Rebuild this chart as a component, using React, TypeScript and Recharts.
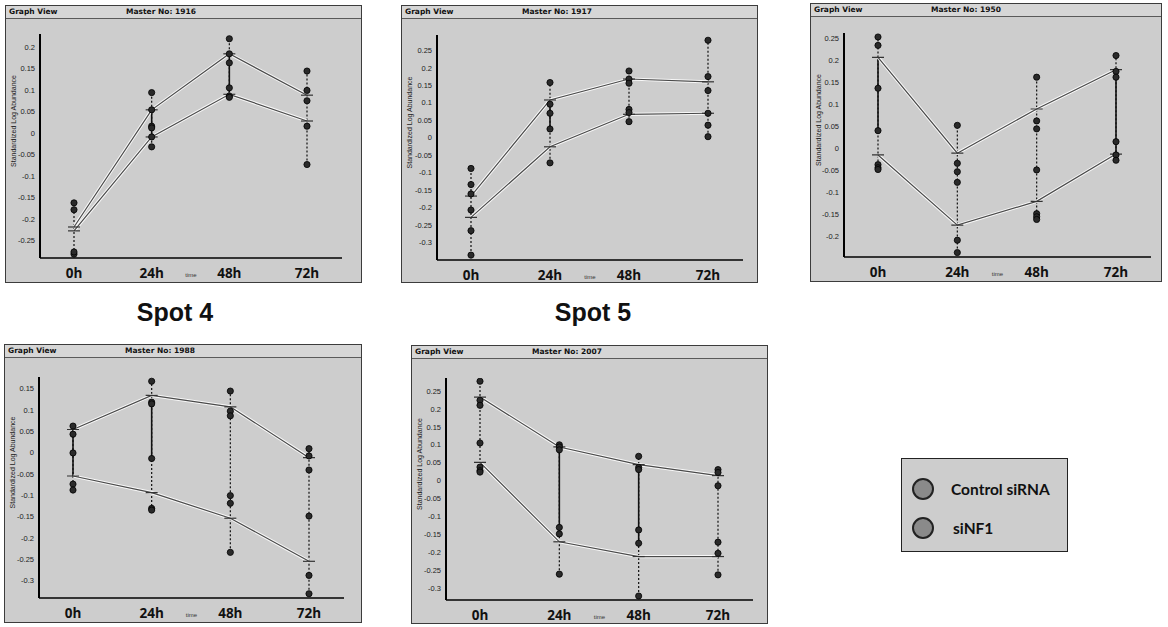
import { ComposedChart, Line, ReferenceLine, Scatter, XAxis, YAxis } from "recharts";

const timeLabels = ["0h", "24h", "48h", "72h"];
const timeIndex = [0, 1, 2, 3];
const groupNames = ["Control siRNA", "siNF1"];
const spotLabels = ["Spot 4", "Spot 5"];

// Master No: 1916
const master1 = "1916";
const domain1 = [-0.29, 0.23];
const ticks1 = [0.2, 0.15, 0.1, 0.05, 0, -0.05, -0.1, -0.15, -0.2, -0.25];
const meanCtrl1 = [-0.218, 0.054, 0.184, 0.088];
const meanNf1_1 = [-0.227, -0.009, 0.09, 0.028];
const repsCtrl1 = [[-0.162, -0.281], [0.094, 0.054, 0.016], [0.219, 0.184, 0.163], [0.144, 0.099, 0.016]];
const repsNf1_1 = [[-0.178, -0.276], [0.012, -0.009, -0.032], [0.105, 0.086, 0.083], [0.075, -0.073]];
const solid1 = [null, [-0.009, 0.054], [0.086, 0.184], null];

// Master No: 1917
const master2 = "1917";
const domain2 = [-0.35, 0.294];
const ticks2 = [0.25, 0.2, 0.15, 0.1, 0.05, 0, -0.05, -0.1, -0.15, -0.2, -0.25, -0.3];
const meanCtrl2 = [-0.167, 0.108, 0.168, 0.16];
const meanNf1_2 = [-0.228, -0.026, 0.067, 0.07];
const repsCtrl2 = [[-0.088, -0.161, -0.266], [0.158, 0.096, 0.07], [0.191, 0.168, 0.156], [0.279, 0.135, 0.07]];
const repsNf1_2 = [[-0.134, -0.207, -0.336], [0.025, -0.072], [0.081, 0.072, 0.046], [0.175, 0.036, 0.003]];
const solid2 = [null, [0.025, 0.108], null, null];

// Master No: 1950
const master3 = "1950";
const domain3 = [-0.246, 0.261];
const ticks3 = [0.25, 0.2, 0.15, 0.1, 0.05, 0, -0.05, -0.1, -0.15, -0.2];
const meanCtrl3 = [0.206, -0.011, 0.089, 0.178];
const meanNf1_3 = [-0.015, -0.174, -0.12, -0.013];
const repsCtrl3 = [[0.252, 0.233, 0.136], [0.052, -0.034, -0.053], [0.161, 0.062, 0.044], [0.21, 0.174, 0.161]];
const repsNf1_3 = [[0.04, -0.037, -0.044, -0.048], [-0.077, -0.208, -0.236], [-0.049, -0.148, -0.155, -0.161], [0.015, -0.015, -0.027]];
const solid3 = [[0.04, 0.206], null, null, [-0.015, 0.174]];

// Master No: 1988
const master4 = "1988";
const domain4 = [-0.341, 0.177];
const ticks4 = [0.15, 0.1, 0.05, 0, -0.05, -0.1, -0.15, -0.2, -0.25, -0.3];
const meanCtrl4 = [0.054, 0.134, 0.107, -0.012];
const meanNf1_4 = [-0.055, -0.094, -0.154, -0.255];
const repsCtrl4 = [[0.062, 0.043], [0.167, 0.118, 0.114], [0.144, 0.097, 0.086], [0.009, -0.008, -0.041]];
const repsNf1_4 = [[-0.001, -0.074, -0.088], [-0.014, -0.131, -0.135], [-0.101, -0.119, -0.234], [-0.149, -0.288, -0.331]];
const solid4 = [[-0.055, 0.062], [-0.014, 0.118], null, null];

// Master No: 2007
const master5 = "2007";
const domain5 = [-0.332, 0.286];
const ticks5 = [0.25, 0.2, 0.15, 0.1, 0.05, 0, -0.05, -0.1, -0.15, -0.2, -0.25, -0.3];
const meanCtrl5 = [0.233, 0.094, 0.045, 0.014];
const meanNf1_5 = [0.051, -0.17, -0.211, -0.211];
const repsCtrl5 = [[0.277, 0.224, 0.21], [0.1, 0.094, 0.086], [0.068, 0.037, 0.031], [0.031, 0.023, -0.014]];
const repsNf1_5 = [[0.105, 0.038, 0.028, 0.024], [-0.13, -0.148, -0.26], [-0.137, -0.174, -0.321], [-0.171, -0.202, -0.262]];
const solid5 = [null, [-0.148, 0.094], [-0.174, 0.037], null];

const BG = "#cdcdcd";

type Box = {
  left: number; top: number; w: number; h: number;
  axisX: number; plotTop: number; plotBottom: number; plotRight: number;
};

type Spec = {
  box: Box;
  master: string;
  domain: number[];
  ticks: number[];
  meanA: number[];
  meanB: number[];
  repsA: number[][];
  repsB: number[][];
  solid: (number[] | null)[];
};

const MeanTick = (p: any) => {
  if (p.cx == null || p.cy == null) return <g key={p.key} />;
  return (
    <line key={p.key} x1={p.cx - 6} x2={p.cx + 6} y1={p.cy} y2={p.cy} stroke="#333" strokeWidth={1.2} />
  );
};

const RepDot = (p: any) => (
  <circle cx={p.cx} cy={p.cy} r={3.1} fill="#2a2a2a" stroke="#000" strokeWidth={0.8} />
);

const YLabel = ({ viewBox }: any) => {
  const cx = viewBox.x + 11;
  const cy = viewBox.y + viewBox.height / 2 - 25;
  return (
    <text x={cx} y={cy} transform={`rotate(-90 ${cx} ${cy})`} textAnchor="middle" fontSize={7} fill="#222"
      fontFamily="Liberation Sans, sans-serif">
      Standardized Log Abundance
    </text>
  );
};

const XLabel = ({ viewBox }: any) => (
  <text x={viewBox.x + viewBox.width / 2} y={viewBox.y + 19} textAnchor="middle" fontSize={6} fill="#333"
    fontFamily="Liberation Sans, sans-serif">
    time
  </text>
);

function Panel({ spec }: { spec: Spec }) {
  const { box } = spec;
  const rows = timeIndex.map((i) => ({ x: i, a: spec.meanA[i], b: spec.meanB[i] }));
  const pts = timeIndex.flatMap((i) =>
    [...spec.repsA[i], ...spec.repsB[i]].map((v) => ({ x: i, y: v }))
  );
  const ranges = timeIndex.map((i) => {
    const all = [...spec.repsA[i], ...spec.repsB[i], spec.meanA[i], spec.meanB[i]];
    return [Math.min(...all), Math.max(...all)];
  });
  const xH = 20;
  return (
    <div
      style={{
        position: "absolute", left: box.left, top: box.top, width: box.w, height: box.h,
        boxSizing: "border-box", border: "1px solid #3c3c3c", background: BG,
      }}
    >
      <div style={{ position: "absolute", left: -1, top: -1 }}>
        <ComposedChart
          width={box.w}
          height={box.h}
          data={rows}
          margin={{ top: box.plotTop, left: 0, right: box.w - box.plotRight, bottom: box.h - box.plotBottom - xH }}
        >
          <XAxis
            dataKey="x"
            type="number"
            domain={[0, 3]}
            ticks={timeIndex}
            tickFormatter={(v) => timeLabels[v]}
            padding={{ left: 34, right: 35 }}
            height={xH}
            axisLine={{ stroke: "#000", strokeWidth: 1.6 }}
            tickLine={false}
            tickMargin={4}
            tick={{ fontSize: 13.5, fontWeight: 700, fill: "#111", fontFamily: "Open Sans, sans-serif" }}
            label={<XLabel />}
          />
          <YAxis
            type="number"
            domain={spec.domain}
            ticks={spec.ticks}
            allowDataOverflow
            width={box.axisX}
            axisLine={{ stroke: "#000", strokeWidth: 2 }}
            tickLine={false}
            tickSize={3}
            tickMargin={2}
            tickFormatter={(v) => String(v)}
            tick={{ fontSize: 7.5, fill: "#222", fontFamily: "Liberation Sans, sans-serif" }}
            label={<YLabel />}
          />
          {timeIndex.map((i) => (
            <ReferenceLine
              key={`d${i}`}
              segment={[{ x: i, y: ranges[i][0] }, { x: i, y: ranges[i][1] }]}
              stroke="#111"
              strokeWidth={1.2}
              strokeDasharray="2 2"
            />
          ))}
          {timeIndex.map((i) =>
            spec.solid[i] ? (
              <ReferenceLine
                key={`s${i}`}
                segment={[{ x: i, y: spec.solid[i]![0] }, { x: i, y: spec.solid[i]![1] }]}
                stroke="#111"
                strokeWidth={1.6}
              />
            ) : null
          )}
          <Line dataKey="a" stroke="#fff" strokeOpacity={0.85} strokeWidth={3.2} dot={false} isAnimationActive={false} />
          <Line dataKey="b" stroke="#fff" strokeOpacity={0.85} strokeWidth={3.2} dot={false} isAnimationActive={false} />
          <Line dataKey="a" name={groupNames[0]} stroke="#4a4a4a" strokeWidth={1.2} dot={MeanTick} isAnimationActive={false} />
          <Line dataKey="b" name={groupNames[1]} stroke="#4a4a4a" strokeWidth={1.2} dot={MeanTick} isAnimationActive={false} />
          <Scatter data={pts} dataKey="y" shape={RepDot} isAnimationActive={false} />
        </ComposedChart>
      </div>
      <div
        style={{
          position: "absolute", left: 0, top: 0, right: 0, height: 13, boxSizing: "border-box",
          borderBottom: "1px solid #5a5a5a", background: "#d6d6d6",
          fontFamily: "DejaVu Sans, sans-serif", fontWeight: 700, fontSize: 7.5, color: "#111", lineHeight: "12px",
        }}
      >
        <span style={{ position: "absolute", left: 3 }}>Graph View</span>
        <span style={{ position: "absolute", left: 120 }}>Master No: {spec.master}</span>
      </div>
    </div>
  );
}

const specs: Spec[] = [
  {
    box: { left: 5, top: 5, w: 357, h: 278, axisX: 35, plotTop: 29, plotBottom: 253, plotRight: 337 },
    master: master1, domain: domain1, ticks: ticks1, meanA: meanCtrl1, meanB: meanNf1_1,
    repsA: repsCtrl1, repsB: repsNf1_1, solid: solid1,
  },
  {
    box: { left: 401, top: 5, w: 357, h: 278, axisX: 36, plotTop: 30, plotBottom: 255, plotRight: 342 },
    master: master2, domain: domain2, ticks: ticks2, meanA: meanCtrl2, meanB: meanNf1_2,
    repsA: repsCtrl2, repsB: repsNf1_2, solid: solid2,
  },
  {
    box: { left: 810, top: 3, w: 352, h: 279, axisX: 34, plotTop: 30, plotBottom: 254, plotRight: 341 },
    master: master3, domain: domain3, ticks: ticks3, meanA: meanCtrl3, meanB: meanNf1_3,
    repsA: repsCtrl3, repsB: repsNf1_3, solid: solid3,
  },
  {
    box: { left: 4, top: 344, w: 358, h: 279, axisX: 35, plotTop: 33, plotBottom: 254, plotRight: 340 },
    master: master4, domain: domain4, ticks: ticks4, meanA: meanCtrl4, meanB: meanNf1_4,
    repsA: repsCtrl4, repsB: repsNf1_4, solid: solid4,
  },
  {
    box: { left: 411, top: 345, w: 357, h: 279, axisX: 35, plotTop: 33, plotBottom: 255, plotRight: 342 },
    master: master5, domain: domain5, ticks: ticks5, meanA: meanCtrl5, meanB: meanNf1_5,
    repsA: repsCtrl5, repsB: repsNf1_5, solid: solid5,
  },
];

const spotStyle = {
  position: "absolute" as const, top: 298, width: 140, textAlign: "center" as const,
  fontSize: 25, lineHeight: "28px", fontWeight: 700, color: "#111",
};

export default function App() {
  return (
    <div
      style={{
        position: "absolute", left: 0, top: 0, width: 1168, height: 627, background: "#fff",
        overflow: "hidden", fontFamily: "Liberation Sans, Arial, sans-serif",
      }}
    >
      {specs.map((s) => (
        <Panel key={s.master} spec={s} />
      ))}
      <div style={{ ...spotStyle, left: 105 }}>{spotLabels[0]}</div>
      <div style={{ ...spotStyle, left: 523 }}>{spotLabels[1]}</div>
      <div
        style={{
          position: "absolute", left: 901, top: 458, width: 167, height: 94, boxSizing: "border-box",
          border: "1.5px solid #222", background: BG,
        }}
      >
        {groupNames.map((g, i) => (
          <div key={g} style={{ position: "absolute", left: 10, top: 19 + i * 39, height: 22, display: "flex", alignItems: "center" }}>
            <span
              style={{
                display: "inline-block", width: 18, height: 18, borderRadius: "50%", background: "#8a8a8a",
                border: "2px solid #222",
              }}
            />
            <span style={{ marginLeft: i === 0 ? 17 : 19, fontFamily: "Lato, sans-serif", fontWeight: 700, fontSize: 15.5, color: "#111" }}>
              {g}
            </span>
          </div>
        ))}
      </div>
    </div>
  );
}
